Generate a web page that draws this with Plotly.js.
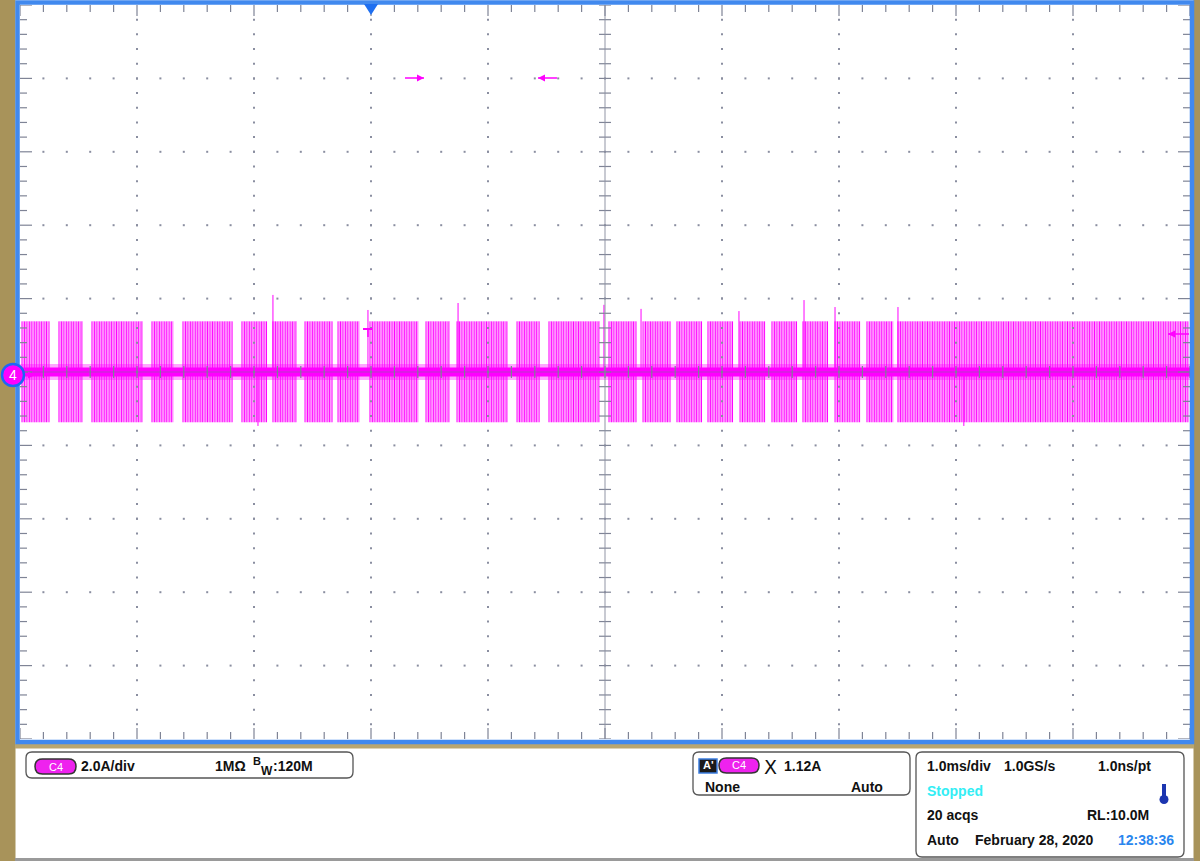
<!DOCTYPE html>
<html>
<head>
<meta charset="utf-8">
<script src="https://cdn.plot.ly/plotly-3.0.1.min.js"></script>
<style>
html,body{margin:0;padding:0;background:#fff;}
#chart{width:1200px;height:861px;}
</style>
</head>
<body>
<div id="chart"></div>
<script>
// ---- Data (time in ms, trigger at 0; current in A) ----
const burstStart = [-2.983,-2.667,-2.385,-1.872,-1.607,-1.103,-0.838,-0.564,-0.282,-0.009,0.470,0.735,1.248,1.521,2.034,2.325,2.615,2.880,3.154,3.427,3.692,3.966,4.239,4.504];
const burstEnd   = [-2.744,-2.462,-1.949,-1.684,-1.179,-0.889,-0.632,-0.325,-0.094,0.402,0.675,1.171,1.444,1.957,2.265,2.556,2.829,3.094,3.368,3.641,3.906,4.179,4.462,6.985];
const burstPos = 1.38;      // upper envelope (A)
const burstNeg = -1.37;     // lower envelope (A)
const switchPeriod = 0.021; // spacing of switching lines inside a burst (ms)
const spikeT = [-0.838,-0.026,0.744,1.991,2.308,3.145,3.701,3.966,4.504,-0.966,5.067];
const spikeA = [2.10,1.69,1.88,1.83,1.72,1.66,1.96,1.77,1.77,-1.47,-1.47];

const XMIN=-3, XMAX=7, YMIN=-10, YMAX=10;

// ---- Pixel helpers for the instrument chrome ----
const PX0=20, PX1=1190, PY0=5, PY1=739;
const xp = px => (px-PX0)/(PX1-PX0);
const yp = py => (PY1-py)/(PY1-PY0);

// ---- Build waveform from burst data ----
const wx=[], wy=[], ix=[], iy=[];
for (let b=0;b<burstStart.length;b++){
  for (let t=burstStart[b]; t<=burstEnd[b]+1e-9; t+=switchPeriod){
    wx.push(t,t,null); wy.push(burstNeg,burstPos,null);
    const u=t+switchPeriod/2;
    if (u<burstEnd[b]) { ix.push(u,u,null); iy.push(burstNeg,burstPos,null); }
  }
}
for (let i=0;i<spikeT.length;i++){ wx.push(spikeT[i],spikeT[i],null); wy.push(0,spikeA[i],null); }

// grid dots
const gx=[], gy=[];
for (let i=1;i<10;i++){ if(i===5) continue; for(let j=1;j<50;j++){ gx.push(XMIN+i); gy.push(YMIN+j*0.4);} }
for (let k=1;k<10;k++){ if(k===5) continue; for(let j=1;j<50;j++){ gx.push(XMIN+j*0.2); gy.push(YMIN+2*k);} }

const traces = [
  {x:ix,y:iy,mode:'lines',line:{color:'rgba(255,110,255,0.75)',width:1.3},connectgaps:false,hoverinfo:'skip',showlegend:false},
  {x:[XMIN,XMAX],y:[0,0],mode:'lines',line:{color:'rgba(255,0,255,0.35)',width:16},hoverinfo:'skip',showlegend:false},
  {x:wx,y:wy,mode:'lines',line:{color:'#ff00ff',width:1},connectgaps:false,name:'C4',showlegend:false},
  {x:[XMIN,XMAX],y:[0,0],mode:'lines',line:{color:'#ff00ff',width:9},hoverinfo:'skip',showlegend:false},
  {x:gx,y:gy,mode:'markers',marker:{color:'#8a8ea0',size:2,symbol:'square'},hoverinfo:'skip',showlegend:false}
];

const TC='#7f8496';
const shapes=[];
// ticks on edges and center crosshair
for (let j=0;j<=50;j++){
  const x = XMIN + j*0.2, major = (j%5===0);
  const L = (major?11:7)/734;
  shapes.push({type:'line',xref:'x',yref:'paper',x0:x,x1:x,y0:1,y1:1-L,line:{color:TC,width:1.2},layer:'above'});
  shapes.push({type:'line',xref:'x',yref:'paper',x0:x,x1:x,y0:0,y1:L,line:{color:TC,width:1.2},layer:'above'});
  shapes.push({type:'line',xref:'x',yref:'paper',x0:x,x1:x,y0:0.5-6/734,y1:0.5+6/734,line:{color:TC,width:1.2},layer:'above'});
  const y = YMIN + j*0.4;
  const Lx = (major?12:7)/1170;
  shapes.push({type:'line',xref:'paper',yref:'y',x0:0,x1:Lx,y0:y,y1:y,line:{color:TC,width:1.2},layer:'above'});
  shapes.push({type:'line',xref:'paper',yref:'y',x0:1,x1:1-Lx,y0:y,y1:y,line:{color:TC,width:1.2},layer:'above'});
  shapes.push({type:'line',xref:'paper',yref:'y',x0:0.5-6/1170,x1:0.5+6/1170,y0:y,y1:y,line:{color:TC,width:1.2},layer:'above'});
}
shapes.push({type:'line',xref:'paper',yref:'paper',x0:0.5,x1:0.5,y0:0,y1:1,line:{color:'rgba(140,144,160,0.8)',width:1.2},layer:'above'});
shapes.push({type:'line',xref:'paper',yref:'paper',x0:0,x1:1,y0:0.5,y1:0.5,line:{color:'rgba(120,110,150,0.55)',width:1.2},layer:'above'});

const KH='#a8935a', BL='#4189ee';
// khaki frame
shapes.push({type:'rect',xref:'paper',yref:'paper',x0:xp(0),x1:xp(15.5),y0:yp(861),y1:yp(0),fillcolor:KH,line:{width:0},layer:'above'});
shapes.push({type:'rect',xref:'paper',yref:'paper',x0:xp(1193.5),x1:xp(1200),y0:yp(861),y1:yp(0),fillcolor:KH,line:{width:0},layer:'above'});
shapes.push({type:'rect',xref:'paper',yref:'paper',x0:xp(15),x1:xp(1194),y0:yp(748.5),y1:yp(744),fillcolor:'#b9a670',line:{width:0},layer:'above'});
shapes.push({type:'rect',xref:'paper',yref:'paper',x0:xp(15),x1:xp(1194),y0:yp(861),y1:yp(858),fillcolor:'#9a9a9a',line:{width:0},layer:'above'});
// blue border
shapes.push({type:'rect',xref:'paper',yref:'paper',x0:xp(17.5),x1:xp(1192),y0:yp(742),y1:yp(2.5),line:{color:BL,width:4.5},fillcolor:'rgba(0,0,0,0)',layer:'above'});
// trigger position marker
shapes.push({type:'path',xref:'paper',yref:'paper',path:`M ${xp(364)} ${yp(4)} L ${xp(378)} ${yp(4)} L ${xp(371)} ${yp(15)} Z`,fillcolor:'#1f6ff0',line:{width:0},layer:'above'});
// magenta markers
const MG='#ff00ff';
function arrow(x1,x2,y,dir){ // dir 1 = right
  const head = dir>0? x2 : x1;
  const back = head - dir*7;
  shapes.push({type:'line',xref:'paper',yref:'paper',x0:xp(x1),x1:xp(x2),y0:yp(y),y1:yp(y),line:{color:MG,width:1.5},layer:'above'});
  shapes.push({type:'path',xref:'paper',yref:'paper',path:`M ${xp(head)} ${yp(y)} L ${xp(back)} ${yp(y-3.5)} L ${xp(back)} ${yp(y+3.5)} Z`,fillcolor:MG,line:{width:0},layer:'above'});
}
arrow(405,424,78,1);
arrow(538,557,78,-1);
arrow(1168,1189,334,-1);
arrow(22,35,375,1);
// trigger point "T"
shapes.push({type:'line',xref:'paper',yref:'paper',x0:xp(363),x1:xp(372),y0:yp(329),y1:yp(329),line:{color:MG,width:2},layer:'above'});
shapes.push({type:'line',xref:'paper',yref:'paper',x0:xp(368),x1:xp(368),y0:yp(329),y1:yp(337),line:{color:MG,width:1.5},layer:'above'});
// ground marker circle
shapes.push({type:'circle',xref:'paper',yref:'paper',x0:xp(2),x1:xp(24),y0:yp(386),y1:yp(364),fillcolor:MG,line:{color:'#1e66f5',width:2.5},layer:'above'});

// bottom panels
function rrect(x0,y0,x1,y1,r,fill,lc,lw){
  const p=`M ${xp(x0+r)} ${yp(y0)} L ${xp(x1-r)} ${yp(y0)} Q ${xp(x1)} ${yp(y0)} ${xp(x1)} ${yp(y0+r)} L ${xp(x1)} ${yp(y1-r)} Q ${xp(x1)} ${yp(y1)} ${xp(x1-r)} ${yp(y1)} L ${xp(x0+r)} ${yp(y1)} Q ${xp(x0)} ${yp(y1)} ${xp(x0)} ${yp(y1-r)} L ${xp(x0)} ${yp(y0+r)} Q ${xp(x0)} ${yp(y0)} ${xp(x0+r)} ${yp(y0)} Z`;
  shapes.push({type:'path',xref:'paper',yref:'paper',path:p,fillcolor:fill,line:{color:lc,width:lw},layer:'above'});
}
rrect(26,752,353,778,6,'#ffffff','#555555',1.3);
rrect(693,752,910,795,6,'#ffffff','#555555',1.3);
rrect(916,752,1184,857,6,'#ffffff','#555555',1.3);
// C4 pills
rrect(35,759,76,774,7.5,'#ee22ee','#333333',1.5);
rrect(719,758,759,773,7.5,'#ee22ee','#333333',1.5);
// A' box
shapes.push({type:'rect',xref:'paper',yref:'paper',x0:xp(699),x1:xp(717),y0:yp(773),y1:yp(759),fillcolor:'#1a1a1a',line:{color:'#3b7de0',width:1.5},layer:'above'});
// thermometer
shapes.push({type:'rect',xref:'paper',yref:'paper',x0:xp(1162),x1:xp(1166),y0:yp(800),y1:yp(784),fillcolor:'#1c35b0',line:{width:0},layer:'above'});
shapes.push({type:'circle',xref:'paper',yref:'paper',x0:xp(1159.5),x1:xp(1168.5),y0:yp(804),y1:yp(795),fillcolor:'#1c35b0',line:{width:0},layer:'above'});

const F='Liberation Sans, Arial, sans-serif';
function txt(s,px,py,opt={}){
  return Object.assign({text:s,xref:'paper',yref:'paper',x:xp(px),y:yp(py),xanchor:'left',yanchor:'middle',showarrow:false,
    font:{family:F,size:14,color:'#111111',weight:'bold'}},opt);
}
const annotations=[
  txt('4',13,375,{xanchor:'center',font:{family:F,size:14,color:'#ffffff'}}),
  txt('C4',55.5,766.5,{xanchor:'center',font:{family:F,size:11,color:'#ffffff'}}),
  txt('<b>2.0A/div</b>',79,766),
  txt('<b>1MΩ</b>',213,766),
  txt('<b>B</b>',251,761,{font:{family:F,size:11,color:'#111111'}}),
  txt('<b>W</b>',259,771,{font:{family:F,size:12,color:'#111111'}}),
  txt('<b>:120M</b>',271,766),
  txt('<b>A\'</b>',701,765,{font:{family:F,size:11,color:'#ffffff'}}),
  txt('C4',739,765.5,{xanchor:'center',font:{family:F,size:11,color:'#ffffff'}}),
  txt('X',762,767,{font:{family:'DejaVu Sans, sans-serif',size:19,color:'#111111'}}),
  txt('<b>1.12A</b>',782,766),
  txt('<b>None</b>',703,787),
  txt('<b>Auto</b>',885,787,{xanchor:'right'}),
  txt('<b>1.0ms/div</b>',925,766),
  txt('<b>1.0GS/s</b>',1002,766),
  txt('<b>1.0ns/pt</b>',1153,766,{xanchor:'right'}),
  txt('<b>Stopped</b>',925,791,{font:{family:F,size:14,color:'#33eef5'}}),
  txt('<b>20 acqs</b>',925,815),
  txt('<b>RL:10.0M</b>',1151,815,{xanchor:'right'}),
  txt('<b>Auto</b>',925,840),
  txt('<b>February 28, 2020</b>',973,840),
  txt('<b>12:38:36</b>',1176,840,{xanchor:'right',font:{family:F,size:14,color:'#2a86ee'}})
];

const layout={
  width:1200,height:861,
  margin:{l:20,r:10,t:5,b:122,pad:0},
  paper_bgcolor:'#ffffff',plot_bgcolor:'#ffffff',
  showlegend:false,
  xaxis:{range:[XMIN,XMAX],showgrid:false,zeroline:false,showticklabels:false,ticks:'',showline:false,fixedrange:true},
  yaxis:{range:[YMIN,YMAX],showgrid:false,zeroline:false,showticklabels:false,ticks:'',showline:false,fixedrange:true},
  shapes:shapes,annotations:annotations
};
Plotly.newPlot('chart',traces,layout,{displayModeBar:false,staticPlot:true});
</script>
</body>
</html>
